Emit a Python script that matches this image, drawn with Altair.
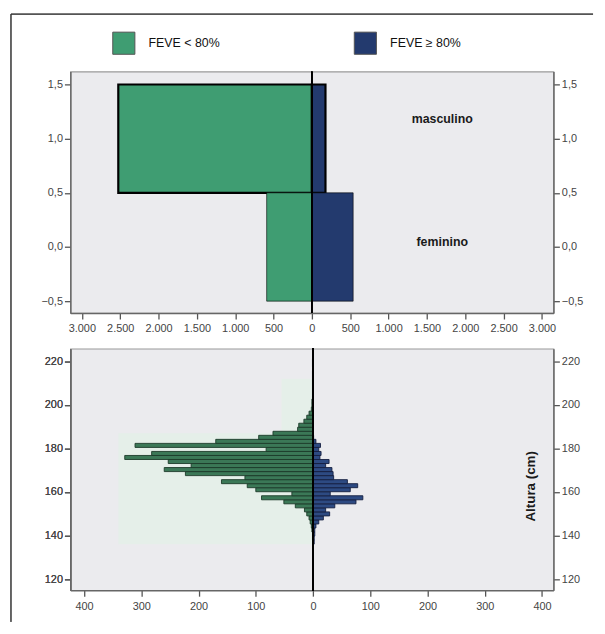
import altair as alt
import pandas as pd

# ---------------- data ----------------
groups = ["FEVE < 80%", "FEVE ≥ 80%"]
sexes = ["masculino", "feminino"]
sex_codes = [1, 0]
count_low_by_sex = [2525, 590]    # FEVE < 80%
count_high_by_sex = [177, 538]    # FEVE >= 80%

bin_width = 1.85
bin_center = [137.00, 138.85, 140.70, 142.55, 144.40, 146.25, 148.10, 149.95,
              151.80, 153.65, 155.50, 157.35, 159.20, 161.05, 162.90, 164.75,
              166.60, 168.45, 170.30, 172.15, 174.00, 175.85, 177.70, 179.55,
              181.40, 183.25, 185.10, 186.95, 188.80, 190.65, 192.50, 194.35,
              196.20, 198.05, 199.90, 201.75, 203.60, 205.45, 207.30, 209.15,
              211.00, 212.85, 214.70, 216.55, 218.40, 220.25]
hist_low = [0, 1, 1, 2, 3, 5, 7, 11, 15, 31, 51, 90, 37, 100, 115, 160,
            119, 223, 260, 213, 253, 329, 282, 82, 311, 170, 95, 70, 27, 25, 16, 11,
            7, 3, 2, 2, 1, 1, 1, 1, 1, 1, 1, 0, 1, 1]
hist_high = [2, 2, 3, 3, 5, 10, 18, 29, 22, 38, 75, 87, 30, 65, 78, 60,
             36, 35, 33, 22, 28, 12, 14, 10, 13, 5, 1, 0, 0, 0, 0, 0,
             0, 0, 0, 0, 0, 0, 0, 0, 0, 0, 0, 0, 0, 0]

top_x_ticks = [-3000, -2500, -2000, -1500, -1000, -500, 0, 500, 1000, 1500, 2000, 2500, 3000]
top_y_ticks = [-0.5, 0.0, 0.5, 1.0, 1.5]
bot_x_ticks = [-400, -300, -200, -100, 0, 100, 200, 300, 400]
bot_y_ticks = [120, 140, 160, 180, 200, 220]

# ---------------- styling ----------------
FONT = "Liberation Sans"
GREEN = "#3f9d72"
BLUE = "#233a6e"
H_GREEN = "#3b7857"
H_GREEN_S = "#1c3a2a"
H_BLUE = "#2d4a82"
H_BLUE_S = "#141e40"
BG = "#ebebee"
W, H = 488, 244

# ---------------- top panel ----------------
rows = []
for s, c, lo, hi in zip(sexes, sex_codes, count_low_by_sex, count_high_by_sex):
    rows.append({"sexo": s, "code": c, "grupo": groups[0], "signed": -lo})
    rows.append({"sexo": s, "code": c, "grupo": groups[1], "signed": hi})
top_df = pd.DataFrame(rows)

xs_top = alt.Scale(domain=[-3150, 3150], nice=False, zero=False)
ys_top = alt.Scale(domain=[-0.61, 1.62], nice=False, zero=False)

ax_common = dict(title=None, grid=False, tickSize=6, tickWidth=1.3, tickColor="#555",
                 domainColor="#666", domainWidth=1.5, labelColor="#444",
                 labelFont=FONT, labelFontSize=11)

x_axis_top = alt.Axis(values=top_x_ticks, labelPadding=4,
                      labelExpr="replace(format(abs(datum.value), ',d'), ',', '.')", **ax_common)
y_lab_top = "replace(format(datum.value, '.1f'), '.', ',')"

base_top = alt.Chart(top_df).transform_calculate(
    y0="datum.code - 0.5", y1="datum.code + 0.5", zero="0")

bars_top = base_top.mark_bar(stroke="black").encode(
    x=alt.X("signed:Q", scale=xs_top, axis=x_axis_top),
    x2="zero:Q",
    y=alt.Y("y0:Q", scale=ys_top,
            axis=alt.Axis(values=top_y_ticks, labelExpr=y_lab_top, orient="left", **ax_common)),
    y2="y1:Q",
    color=alt.Color("grupo:N", scale=alt.Scale(domain=groups, range=[GREEN, BLUE]),
                    legend=alt.Legend(title=None, orient="none", legendX=42, legendY=-41,
                                      direction="horizontal", symbolType="square",
                                      symbolSize=500, symbolStrokeColor="#555",
                                      symbolStrokeWidth=1, symbolOpacity=1,
                                      labelFont=FONT, labelFontSize=12.5, labelColor="#111",
                                      labelOffset=13, columnPadding=133, columns=2)),
    strokeWidth=alt.condition("datum.sexo == 'masculino'", alt.value(2.2), alt.value(0.6)),
)

right_axis_top = base_top.mark_bar(opacity=0).encode(
    x=alt.X("signed:Q", scale=xs_top, axis=x_axis_top),
    x2="zero:Q",
    y=alt.Y("y0:Q", scale=ys_top,
            axis=alt.Axis(values=top_y_ticks, labelExpr=y_lab_top, orient="right", **ax_common)),
    y2="y1:Q",
)

zero_top = alt.Chart(top_df).mark_rule(color="black", strokeWidth=1.5).encode(
    x=alt.X(datum=0, scale=xs_top))

lbl_df = pd.DataFrame({"sexo": sexes, "code": sex_codes})
lbl_m = alt.Chart(lbl_df).transform_filter("datum.sexo == 'masculino'").mark_text(
    font=FONT, fontSize=12.5, fontWeight="bold", color="#1a1a1a", dy=-20).encode(
    x=alt.X(datum=1700, scale=xs_top),
    y=alt.Y("code:Q", scale=ys_top, axis=None), text="sexo:N")
lbl_f = alt.Chart(lbl_df).transform_filter("datum.sexo == 'feminino'").mark_text(
    font=FONT, fontSize=12.5, fontWeight="bold", color="#1a1a1a", dy=-5).encode(
    x=alt.X(datum=1700, scale=xs_top),
    y=alt.Y("code:Q", scale=ys_top, axis=None), text="sexo:N")

frame_v = alt.Chart(lbl_df).mark_rule(color="#333", strokeWidth=1).encode(
    x=alt.value(-60), y=alt.value(-58), y2=alt.value(556))
frame_h = alt.Chart(lbl_df).mark_rule(color="#333", strokeWidth=1).encode(
    x=alt.value(-60), x2=alt.value(528), y=alt.value(-58))

top = alt.layer(bars_top, right_axis_top, zero_top, lbl_m, lbl_f, frame_v, frame_h).resolve_axis(
    y="independent").properties(width=W, height=H)

# ---------------- bottom panel ----------------
hist_df = pd.DataFrame({"center": bin_center, "low": hist_low, "high": hist_high})
hist_df["bw"] = bin_width

xs_bot = alt.Scale(domain=[-424, 420], nice=False, zero=False)
ys_bot = alt.Scale(domain=[114.9, 225.8], nice=False, zero=False)

x_axis_bot = alt.Axis(values=bot_x_ticks, labelPadding=4,
                      labelExpr="format(abs(datum.value), 'd')", **ax_common)

base_bot = alt.Chart(hist_df).transform_calculate(
    lo="datum.center - datum.bw / 2", hi="datum.center + datum.bw / 2",
    neg="-datum.low", zero="0")

tint_df = pd.DataFrame({"x0": [-340, -55], "y0": [136, 187], "y1": [187, 212], "x1": [0, 0]})
tint = alt.Chart(tint_df).mark_rect(color="#e5efe9").encode(
    x=alt.X("x0:Q", scale=xs_bot, axis=x_axis_bot), x2="x1:Q",
    y=alt.Y("y0:Q", scale=ys_bot,
            axis=alt.Axis(values=bot_y_ticks, format="d", orient="left", **ax_common)),
    y2="y1:Q")

green_bars = base_bot.transform_filter("datum.low > 0").mark_bar(
    fill=H_GREEN, stroke=H_GREEN_S, strokeWidth=0.9).encode(
    x=alt.X("neg:Q", scale=xs_bot, axis=x_axis_bot), x2="zero:Q",
    y=alt.Y("lo:Q", scale=ys_bot,
            axis=alt.Axis(values=bot_y_ticks, format="d", orient="left", **ax_common)),
    y2="hi:Q")

blue_bars = base_bot.transform_filter("datum.high > 0").mark_bar(
    fill=H_BLUE, stroke=H_BLUE_S, strokeWidth=0.9).encode(
    x=alt.X("zero:Q", scale=xs_bot, axis=x_axis_bot), x2="high:Q",
    y=alt.Y("lo:Q", scale=ys_bot,
            axis=alt.Axis(values=bot_y_ticks, format="d", orient="right", **ax_common)),
    y2="hi:Q")

zero_bot = alt.Chart(hist_df).mark_rule(color="black", strokeWidth=1.3).encode(
    x=alt.X(datum=0, scale=xs_bot))

title_df = pd.DataFrame({"t": ["Altura (cm)"]})
ytitle = alt.Chart(title_df).mark_text(
    font=FONT, fontSize=13.5, fontWeight="bold", color="#1a1a1a", angle=270).encode(
    x=alt.X(datum=381, scale=xs_bot),
    y=alt.Y(datum=162.6, scale=ys_bot, axis=None), text="t:N")

bottom = alt.layer(tint, green_bars, blue_bars, zero_bot, ytitle).resolve_axis(
    y="independent").properties(width=W, height=H)

chart = alt.vconcat(top, bottom, spacing=36, bounds="flush").properties(
    padding={"left": 1, "top": 1, "right": 2, "bottom": 2},
    background="white",
).configure_view(fill=BG, stroke="#9a9a9a", strokeWidth=1.2)

chart.save("out.html", embed_options={"renderer": "svg", "actions": False})
